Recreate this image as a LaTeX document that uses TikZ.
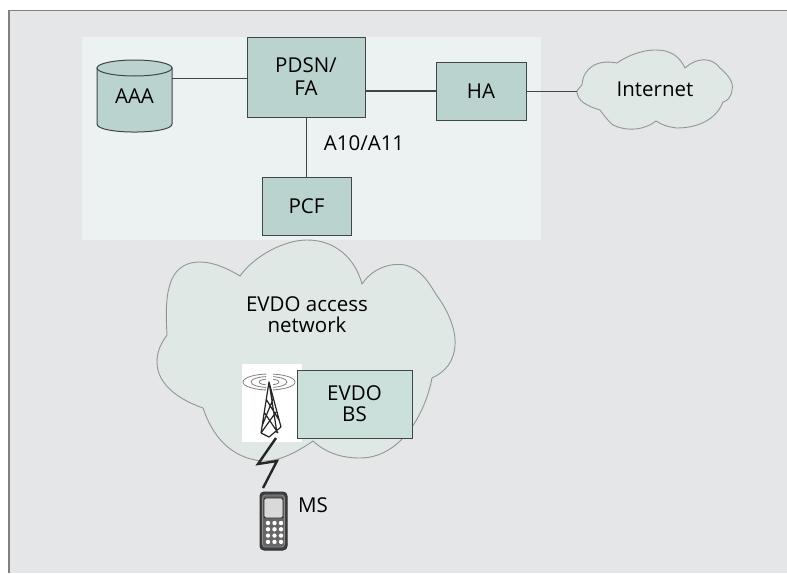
\documentclass[tikz,border=0pt]{standalone}
\usepackage{fontspec}
\setmainfont{Open Sans}
\definecolor{pagebg}{HTML}{E5E6E8}
\definecolor{panelbg}{HTML}{ECF2F2}
\definecolor{boxfill}{HTML}{BAD3CF}
\definecolor{bsfill}{HTML}{CBDFDB}
\definecolor{cloudfill}{HTML}{DFE8E5}
\definecolor{edgecol}{HTML}{404547}
\tikzset{
  box/.style={draw=edgecol,fill=boxfill,line width=1pt,align=center,inner sep=0pt,outer sep=0pt,font=\fontsize{20.5}{21}\selectfont},
  label/.style={inner sep=0pt,align=center,font=\fontsize{20.5}{21}\selectfont},
  cloud line/.style={draw=black!42,fill=cloudfill,line width=0.9pt},
  link/.style={draw=edgecol,line width=1pt}
}
\begin{document}
\begin{tikzpicture}[x=1pt,y=-1pt]
      \useasboundingbox (0,0) rectangle (787,573);
      \fill[pagebg] (9,11) rectangle (787,573);
      \draw[black!50,line width=1pt] (787,10.5) -- (9,10.5);
      \draw[black!50,line width=2pt] (9,10) -- (9,573);
      \fill[panelbg] (82,37) rectangle (541,240);
      % core network
      \path (306,77) node[box,minimum width=118pt,minimum height=80pt] (pdsn) {PDSN/\\[2pt]FA};
      \path (481,91) node[box,minimum width=90pt,minimum height=58pt] (ha) {HA};
      \path (306.5,206) node[box,minimum width=89pt,minimum height=58pt] (pcf) {PCF};
      \draw[edgecol,fill=boxfill,line width=1pt] (97,68) -- (97,124) .. controls (97,134.7) and (172,134.7) .. (172,124) -- (172,68) -- cycle;
      \draw[edgecol,fill=boxfill,line width=1pt] (134.5,68) ellipse (37.5pt and 8pt);
      \path (134.5,96) node[label] (aaa) {AAA};
      \coordinate (aaaport) at (172,78);
      \draw[link] (aaaport) -- (aaaport -| pdsn.west);
      \draw[edgecol,line width=2.6pt] (pdsn.east |- ha.center) -- (ha.west);
      \draw[link] (pdsn.south -| pcf.north) -- (pcf.north);
      \path (364,143) node[label] (a10) {A10/A11};
      % internet cloud
      \path[cloud line] (582,85) .. controls (583,68) and (597,59) .. (617,63)
        .. controls (633,52) and (648,50) .. (655,50)
        .. controls (673,50) and (680,58) .. (685,68)
        .. controls (697,57) and (712,57) .. (720,68)
        .. controls (728,75) and (734,82) .. (732,90)
        .. controls (731,98) and (727,101) .. (723,102)
        .. controls (716,120) and (697,128) .. (677,128)
        .. controls (668,127) and (662,125) .. (656,121)
        .. controls (645,130) and (627,132) .. (613,125)
        .. controls (607,120) and (603,114) .. (600,110)
        .. controls (587,106) and (577,101) .. (577,91)
        .. controls (578,88) and (581,87) .. (582,85) -- cycle;
      \path (655,89) node[label] (internet) {Internet};
      \coordinate (inetport) at (577,91);
      \draw[link] (ha.east) -- (inetport);
      % access network cloud
      \path[cloud line] (167,335) .. controls (165,300) and (165,262) .. (200,262)
        .. controls (215,262) and (230,270) .. (240,276)
        .. controls (255,255) and (285,240) .. (307,240)
        .. controls (335,240) and (355,258) .. (362,284)
        .. controls (375,265) and (395,263) .. (405,265)
        .. controls (425,270) and (432,290) .. (440,300)
        .. controls (452,318) and (456,335) .. (455,345)
        .. controls (454,362) and (445,372) .. (432,378)
        .. controls (425,415) and (400,458) .. (360,458)
        .. controls (340,458) and (325,452) .. (313,441)
        .. controls (300,450) and (280,462) .. (262,461)
        .. controls (230,458) and (212,435) .. (203,408)
        .. controls (180,400) and (157,385) .. (157,362)
        .. controls (157,350) and (162,342) .. (167,335) -- cycle;
      \path (307,314.5) node[label] (evdonet) {EVDO access\\network};
      % tower
      \fill[white] (242,364) rectangle (302,442);
      \foreach \rx/\ry in {26/8,18/5.5,10/3} {
        \begin{scope}
          \clip (242,364) rectangle (266,400);
          \draw[black!50,line width=0.8pt] (269,382) ellipse ({\rx pt} and {\ry pt});
        \end{scope}
        \begin{scope}
          \clip (273,364) rectangle (302,400);
          \draw[black!50,line width=0.8pt] (269,382) ellipse ({\rx pt} and {\ry pt});
        \end{scope}
      }
      \draw[black!85,line width=1.2pt,line join=round] (261,433) -- (269,382) -- (277,433) (269,382) -- (281,427)
        (264,412) -- (278,433) (276,412) -- (261,433) (266,399) -- (279,420) (273,399) -- (262,426)
        (261,433) -- (269,437) -- (281,427);
      \path (354.5,404) node[box,fill=bsfill,minimum width=115pt,minimum height=68pt] (bs) {EVDO\\BS};
      % radio link and handset
      \draw[black!85,line width=2.4pt] (276,438) -- (258,464) -- (277,461) -- (263,488);
      \draw[black!80,fill=black!75,line width=1pt,rounded corners=4pt] (260,492) rectangle (287,550);
      \draw[black!45,fill=black!60,line width=0.8pt,rounded corners=3pt] (262.5,495) rectangle (284.5,547);
      \draw[black!85,fill=black!15,line width=0.8pt,rounded corners=2pt] (264,498) rectangle (283,518);
      \foreach \i in {0,...,2} {
        \foreach \j in {0,...,3} {
          \pgfmathsetmacro\kx{268+6.5*\i}
          \pgfmathsetmacro\ky{523+6.3*\j}
          \path[fill=white] (\kx,\ky) circle (2.2pt);
        }
      }
      \path (313,505) node[label] (ms) {MS};
    \end{tikzpicture}
\end{document}
